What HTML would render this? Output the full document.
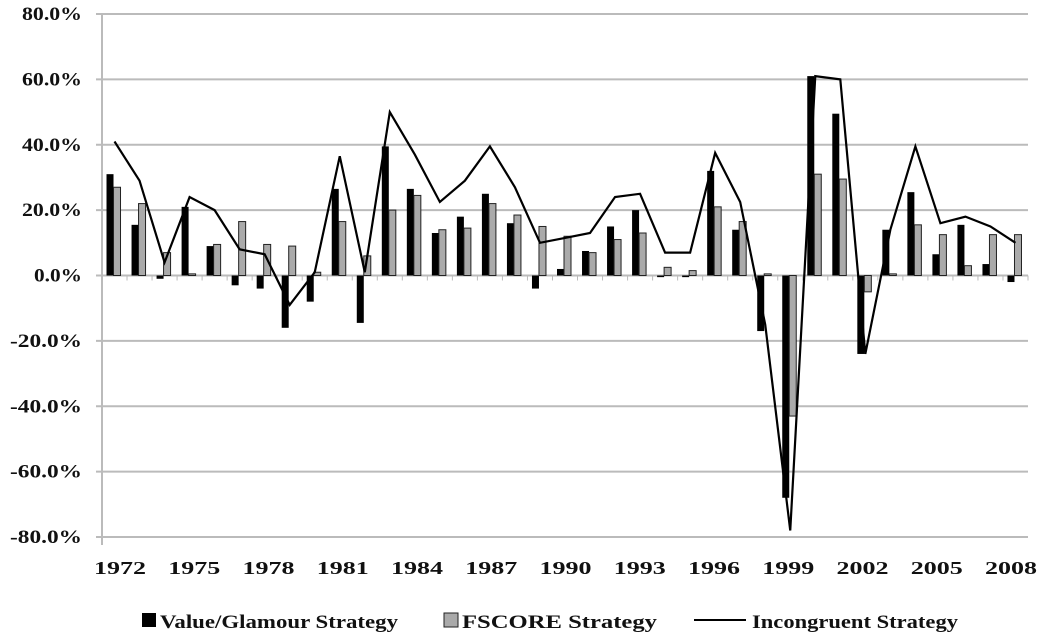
<!DOCTYPE html>
<html><head><meta charset="utf-8"><style>
body{margin:0;background:#fff;}
svg{display:block;font-family:"Liberation Serif",serif;font-weight:bold;}
</style></head><body>
<svg id="c" width="1044" height="642"></svg>
<script>
const years=[1972,1973,1974,1975,1976,1977,1978,1979,1980,1981,1982,1983,1984,1985,1986,1987,1988,1989,1990,1991,1992,1993,1994,1995,1996,1997,1998,1999,2000,2001,2002,2003,2004,2005,2006,2007,2008];
const valueGlamour=[31,15.5,-1,21,9,-3,-4,-16,-8,26.5,-14.5,39.5,26.5,13,18,25,16,-4,2,7.5,15,20,-0.5,-0.5,32,14,-17,-68,61,49.5,-24,14,25.5,6.5,15.5,3.5,-2];
const fscore=[27,22,7,0.5,9.5,16.5,9.5,9,1,16.5,6,20,24.5,14,14.5,22,18.5,15,12,7,11,13,2.5,1.5,21,16.5,0.5,-43,31,29.5,-5,0.5,15.5,12.5,3,12.5,12.5];
const incongruent=[41,29,4,24,20,8,6.5,-9,1,36.5,1,50,37,22.5,29,39.5,27,10,11.5,13,24,25,7,7,37.5,22.5,-15,-78,61,60,-24,14,39.5,16,18,15,10];
const yTicks=[80,60,40,20,0,-20,-40,-60,-80];
const xTickYears=[1972,1975,1978,1981,1984,1987,1990,1993,1996,1999,2002,2005,2008];
const NS="http://www.w3.org/2000/svg",svg=document.getElementById('c');
const L=102,R=1028,T=14,B=537;
const y=v=>T+(80-v)/160*(B-T);
const cw=(R-L)/years.length;
const xc=i=>L+cw*(i+0.5);
const xl=i=>120+24.75*i;
function mk(t,a,p){const e=document.createElementNS(NS,t);for(const k in a)e.setAttribute(k,a[k]);(p||svg).appendChild(e);return e;}
yTicks.forEach(v=>{
 const g=mk('line',{x1:L-6,x2:R,y1:y(v),y2:y(v),stroke:'#bbb','stroke-width':2});
 
 
 const lbl=v.toFixed(1)+'%';
 const t=mk('text',{x:82,y:y(v)+6,'text-anchor':'end','font-size':19,fill:'#111',textLength:lbl.length*12,lengthAdjust:'spacingAndGlyphs'});
 t.textContent=lbl;
 
 
});
const ax=mk('line',{x1:L,x2:L,y1:T,y2:B+8,stroke:'#bbb','stroke-width':2});


years.forEach((yr,i)=>{
 const tk=mk('line',{x1:L+cw*(i+1),x2:L+cw*(i+1),y1:y(0),y2:y(0)+5,stroke:'#bbb','stroke-width':1});
 
 
 const v=valueGlamour[i],f=fscore[i];
 const b1=mk('rect',{x:xc(i)-8,y:Math.min(y(v),y(0)),width:7,height:Math.abs(y(v)-y(0)),fill:'#000'});
 
 
 const b2=mk('rect',{x:xc(i)-1,y:Math.min(y(f),y(0)),width:7,height:Math.abs(y(f)-y(0)),fill:'#aaa',stroke:'#222','stroke-width':1});
 
 
 if(xTickYears.includes(yr)){
  const t=mk('text',{x:xl(i)-26,y:574,'font-size':18,fill:'#111',textLength:52,lengthAdjust:'spacingAndGlyphs'});
  t.textContent=yr;
  
  
 }
});
const ln=mk('polyline',{points:incongruent.map((v,i)=>xc(i)+','+y(v)).join(' '),fill:'none',stroke:'#000','stroke-width':2.2});


const lg=mk('g',{});


const s1=mk('rect',{x:142,y:613,width:14,height:14,fill:'#000'},lg);


const t1=mk('text',{x:160,y:628,'font-size':19,fill:'#111',textLength:238,lengthAdjust:'spacingAndGlyphs'},lg);t1.textContent='Value/Glamour Strategy';


const s2=mk('rect',{x:444,y:613,width:14,height:14,fill:'#aaa',stroke:'#222'},lg);


const t2=mk('text',{x:462,y:628,'font-size':19,fill:'#111',textLength:195,lengthAdjust:'spacingAndGlyphs'},lg);t2.textContent='FSCORE Strategy';


const s3=mk('line',{x1:694,x2:746,y1:620,y2:620,stroke:'#000','stroke-width':2},lg);


const t3=mk('text',{x:752,y:628,'font-size':19,fill:'#111',textLength:206,lengthAdjust:'spacingAndGlyphs'},lg);t3.textContent='Incongruent Strategy';


</script>
</body></html>
